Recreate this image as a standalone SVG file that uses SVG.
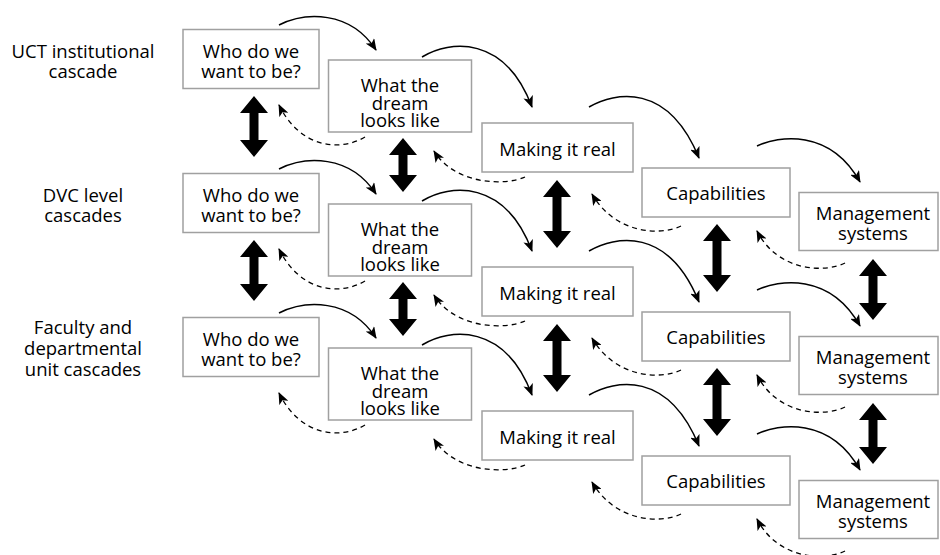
<svg xmlns="http://www.w3.org/2000/svg" width="940" height="555" viewBox="0 0 940 555">
<defs>
<style>
.box{fill:#fff;stroke:#a0a0a0;stroke-width:1.5}
text{font-family:"Open Sans","Noto Sans","DejaVu Sans",sans-serif;font-size:18.5px;fill:#000;text-anchor:middle}
.fwd{fill:none;stroke:#000;stroke-width:1.5;marker-end:url(#ah)}
.back{fill:none;stroke:#000;stroke-width:1.3;stroke-dasharray:5 4;marker-end:url(#ah)}
.dbl{fill:#000;stroke:none}
</style>
<marker id="ah" markerUnits="userSpaceOnUse" viewBox="0 0 12 10" refX="11" refY="5" markerWidth="12" markerHeight="10" orient="auto">
<path d="M0,0 L12,5 L0,10 L3,5 z" fill="#000" stroke="none"/>
</marker>
</defs>
<rect width="940" height="555" fill="#fff"/>

<g id="labels">
<text x="83" y="58">UCT institutional</text>
<text x="83" y="78">cascade</text>
<text x="83" y="202">DVC level</text>
<text x="83" y="222">cascades</text>
<text x="83" y="334">Faculty and</text>
<text x="83" y="355">departmental</text>
<text x="83" y="376">unit cascades</text>
</g>

<g id="connectors">
<path class="fwd" d="M279,25 C305,12 350,10 376,50"/>
<path class="fwd" d="M422,57 C450,40 505,35 532,107"/>
<path class="fwd" d="M589,107 C615,92 668,82 699,158"/>
<path class="fwd" d="M757,146 C778,136 830,128 860,182"/>
<path class="fwd" d="M279,169 C305,156 350,154 376,194"/>
<path class="fwd" d="M422,201 C450,184 505,179 532,251"/>
<path class="fwd" d="M589,251 C615,236 668,226 699,302"/>
<path class="fwd" d="M757,290 C778,280 830,272 860,326"/>
<path class="fwd" d="M279,313 C305,300 350,298 376,338"/>
<path class="fwd" d="M422,345 C450,328 505,323 532,395"/>
<path class="fwd" d="M589,395 C615,380 668,370 699,446"/>
<path class="fwd" d="M757,434 C778,424 830,416 860,470"/>

<path class="back" d="M365,137 C340,152 300,148 279,105"/>
<path class="back" d="M525,177 C505,186 455,185 434,151"/>
<path class="back" d="M681,226 C660,236 615,234 592,194"/>
<path class="back" d="M845,263 C825,273 778,272 757,231"/>
<path class="back" d="M365,281 C340,296 300,292 279,249"/>
<path class="back" d="M525,321 C505,330 455,329 434,295"/>
<path class="back" d="M681,370 C660,380 615,378 592,338"/>
<path class="back" d="M845,407 C825,417 778,416 757,375"/>
<path class="back" d="M365,425 C340,440 300,436 279,393"/>
<path class="back" d="M525,465 C505,474 455,473 434,439"/>
<path class="back" d="M681,514 C660,524 615,522 592,482"/>
<path class="back" d="M845,551 C825,561 778,560 757,519"/>

<polygon class="dbl" points="254,96 268,113 258.5,113 258.5,140 268,140 254,157 240,140 249.5,140 249.5,113 240,113"/>
<polygon class="dbl" points="254,240 268,257 258.5,257 258.5,284 268,284 254,301 240,284 249.5,284 249.5,257 240,257"/>
<polygon class="dbl" points="403,138 417,155 407.5,155 407.5,175 417,175 403,192 389,175 398.5,175 398.5,155 389,155"/>
<polygon class="dbl" points="403,282 417,299 407.5,299 407.5,319 417,319 403,336 389,319 398.5,319 398.5,299 389,299"/>
<polygon class="dbl" points="557,180 571,197 561.5,197 561.5,231 571,231 557,248 543,231 552.5,231 552.5,197 543,197"/>
<polygon class="dbl" points="557,324 571,341 561.5,341 561.5,375 571,375 557,392 543,375 552.5,375 552.5,341 543,341"/>
<polygon class="dbl" points="717,224 731,241 721.5,241 721.5,275 731,275 717,292 703,275 712.5,275 712.5,241 703,241"/>
<polygon class="dbl" points="717,368 731,385 721.5,385 721.5,419 731,419 717,436 703,419 712.5,419 712.5,385 703,385"/>
<polygon class="dbl" points="873,259 887,276 877.5,276 877.5,303 887,303 873,320 859,303 868.5,303 868.5,276 859,276"/>
<polygon class="dbl" points="873,403 887,420 877.5,420 877.5,447 887,447 873,464 859,447 868.5,447 868.5,420 859,420"/>
</g>

<g id="who1"><rect class="box" x="183" y="29.5" width="136" height="59"/><text x="251" y="58">Who do we</text><text x="251" y="78">want to be?</text></g>
<g id="dream1"><rect class="box" x="328.5" y="60" width="143" height="72"/><text x="400" y="91.5">What the</text><text x="400" y="109.5">dream</text><text x="400" y="127">looks like</text></g>
<g id="real1"><rect class="box" x="482" y="123" width="151" height="49"/><text x="557.5" y="156">Making it real</text></g>
<g id="cap1"><rect class="box" x="642" y="168" width="148" height="49"/><text x="716" y="200">Capabilities</text></g>
<g id="mgmt1"><rect class="box" x="799" y="192.5" width="139" height="58"/><text x="873" y="220">Management</text><text x="873" y="240">systems</text></g>

<g id="who2"><rect class="box" x="183" y="173.5" width="136" height="59"/><text x="251" y="202">Who do we</text><text x="251" y="222">want to be?</text></g>
<g id="dream2"><rect class="box" x="328.5" y="204" width="143" height="72"/><text x="400" y="235.5">What the</text><text x="400" y="253.5">dream</text><text x="400" y="271">looks like</text></g>
<g id="real2"><rect class="box" x="482" y="267" width="151" height="49"/><text x="557.5" y="300">Making it real</text></g>
<g id="cap2"><rect class="box" x="642" y="312" width="148" height="49"/><text x="716" y="344">Capabilities</text></g>
<g id="mgmt2"><rect class="box" x="799" y="336.5" width="139" height="58"/><text x="873" y="364">Management</text><text x="873" y="384">systems</text></g>

<g id="who3"><rect class="box" x="183" y="317.5" width="136" height="59"/><text x="251" y="346">Who do we</text><text x="251" y="366">want to be?</text></g>
<g id="dream3"><rect class="box" x="328.5" y="348" width="143" height="72"/><text x="400" y="379.5">What the</text><text x="400" y="397.5">dream</text><text x="400" y="415">looks like</text></g>
<g id="real3"><rect class="box" x="482" y="411" width="151" height="49"/><text x="557.5" y="444">Making it real</text></g>
<g id="cap3"><rect class="box" x="642" y="456" width="148" height="49"/><text x="716" y="488">Capabilities</text></g>
<g id="mgmt3"><rect class="box" x="799" y="480.5" width="139" height="58"/><text x="873" y="508">Management</text><text x="873" y="528">systems</text></g>
</svg>
